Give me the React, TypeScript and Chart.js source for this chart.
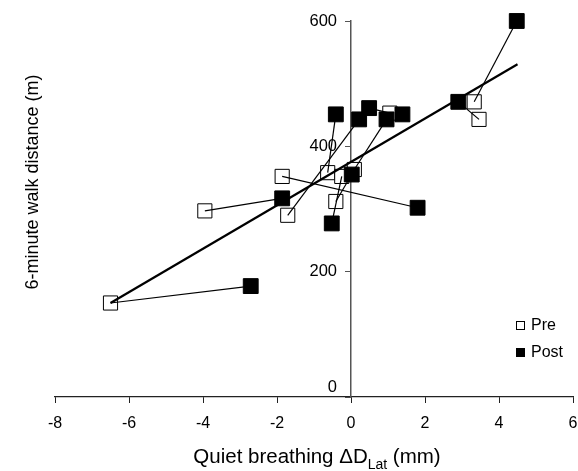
import React, { useEffect, useRef } from "react";
import { Chart, registerables } from "chart.js";

Chart.register(...registerables);

// Pre values (x: quiet breathing ΔD_Lat mm, y: 6MWD m)
const preX = [-6.5, -3.95, -1.86, -1.71, -0.63, -0.41, -0.25, 0.09, 1.05, 3.33, 3.46];
const preY = [150, 297, 352, 290, 358, 312, 352, 363, 453, 471, 443];
// Post values; index i pairs with pre index i (last one has no visible partner)
const postX = [-2.71, -1.86, 1.8, 0.22, -0.41, 0.02, -0.52, 0.96, 0.49, 4.48, 2.9, 1.39];
const postY = [177, 317, 302, 443, 451, 355, 277, 443, 461, 600, 471, 451];
// Regression line
const regX = [-6.5, 4.5];
const regY = [150, 531];

const xTicks = [-8, -6, -4, -2, 0, 2, 4, 6];
const yTicks = [0, 200, 400, 600];

const FONT = '"Liberation Sans", Arial, Helvetica, sans-serif';

export default function App() {
  const ref = useRef<HTMLCanvasElement | null>(null);

  useEffect(() => {
    if (!ref.current) return;
    const pre = preX.map((x, i) => ({ x, y: preY[i] }));
    const post = postX.map((x, i) => ({ x, y: postY[i] }));
    const pairSets = preX.map((x, i) => ({
      label: "pair" + i,
      data: [
        { x, y: preY[i] },
        { x: postX[i], y: postY[i] },
      ],
      showLine: true,
      pointRadius: 0,
      pointHoverRadius: 0,
      borderColor: "#000",
      borderWidth: 1.2,
      order: 2,
      clip: false as any,
    }));

    // extend plot to the right edge and place the y axis so it crosses x = 0
    const yAtZero = {
      id: "yAtZero",
      afterLayout(chart: any) {
        const xs = chart.scales.x;
        const ys = chart.scales.y;
        const right = chart.width - 5;
        chart.chartArea.right = right;
        chart.chartArea.width = right - chart.chartArea.left;
        xs.right = right;
        xs.width = right - xs.left;
        xs.configure();
        const px = xs.getPixelForValue(0);
        ys.right = px;
        ys.left = px - 60;
        ys.width = 60;
      },
    };

    const titlesAndLegend = {
      id: "titlesAndLegend",
      afterDraw(chart: any) {
        const ctx = chart.ctx;
        ctx.save();
        ctx.fillStyle = "#000";
        // y title
        ctx.save();
        ctx.translate(33, 182);
        ctx.rotate(-Math.PI / 2);
        ctx.font = `18px ${FONT}`;
        ctx.textAlign = "center";
        ctx.textBaseline = "middle";
        ctx.fillText("6-minute walk distance (m)", 0, 0);
        ctx.restore();
        // x title with subscript
        const p1 = "Quiet breathing ΔD";
        const sub = "Lat";
        const p2 = " (mm)";
        ctx.textBaseline = "alphabetic";
        ctx.textAlign = "left";
        ctx.font = `20.5px ${FONT}`;
        const w1 = ctx.measureText(p1).width;
        const w3 = ctx.measureText(p2).width;
        ctx.font = `14px ${FONT}`;
        const w2 = ctx.measureText(sub).width;
        const total = w1 + w2 + w3;
        let x = 317 - total / 2;
        const base = 463;
        ctx.font = `20.5px ${FONT}`;
        ctx.fillText(p1, x, base);
        x += w1;
        ctx.font = `14px ${FONT}`;
        ctx.fillText(sub, x, base + 6);
        x += w2;
        ctx.font = `20.5px ${FONT}`;
        ctx.fillText(p2, x, base);
        // legend
        const dsPre = chart.data.datasets.find((d: any) => d.label === "Pre");
        const dsPost = chart.data.datasets.find((d: any) => d.label === "Post");
        ctx.font = `16px ${FONT}`;
        ctx.textBaseline = "middle";
        ctx.lineWidth = 1;
        ctx.fillStyle = "#fff";
        ctx.strokeStyle = "#000";
        ctx.fillRect(516.5, 321.5, 8, 8);
        ctx.strokeRect(516.5, 321.5, 8, 8);
        ctx.fillStyle = "#000";
        ctx.fillRect(516, 348, 9, 9);
        ctx.fillText(dsPre.label, 531, 326);
        ctx.fillText(dsPost.label, 531, 353);
        ctx.restore();
      },
    };

    const chart = new Chart(ref.current, {
      type: "scatter",
      data: {
        datasets: [
          {
            label: "Pre",
            data: pre,
            pointStyle: "rect",
            pointRadius: 10,
            pointHoverRadius: 10,
            backgroundColor: "#fff",
            borderColor: "#000",
            borderWidth: 1,
            order: 3,
            clip: false as any,
          },
          ...pairSets,
          {
            label: "reg",
            data: regX.map((x, i) => ({ x, y: regY[i] })),
            showLine: true,
            pointRadius: 0,
            pointHoverRadius: 0,
            borderColor: "#000",
            borderWidth: 2.2,
            order: 2,
            clip: false as any,
          },
          {
            label: "Post",
            data: post,
            pointStyle: "rect",
            pointRadius: 10.5,
            pointHoverRadius: 10.5,
            backgroundColor: "#000",
            borderColor: "#000",
            borderWidth: 1,
            order: 1,
            clip: false as any,
          },
        ] as any,
      },
      plugins: [yAtZero, titlesAndLegend],
      options: {
        animation: false,
        responsive: true,
        maintainAspectRatio: false,
        layout: { padding: { left: 55, right: 5, top: 21, bottom: 0 } },
        plugins: { legend: { display: false }, tooltip: { enabled: false } },
        scales: {
          x: {
            type: "linear",
            position: "bottom",
            min: -8,
            max: 6,
            afterFit: (s: any) => {
              s.height = 74;
            },
            afterBuildTicks: (s: any) => {
              s.ticks = xTicks.map((v) => ({ value: v }));
            },
            ticks: { font: { size: 16, family: FONT }, color: "#000", padding: 11 },
            grid: { drawOnChartArea: false, drawTicks: true, tickLength: 6, color: "#222" },
            border: { display: true, color: "#222", width: 1.2 },
          },
          y: {
            type: "linear",
            position: "left",
            min: 0,
            max: 600,
            afterFit: (s: any) => {
              s.width = 0;
            },
            afterBuildTicks: (s: any) => {
              s.ticks = yTicks.map((v) => ({ value: v }));
            },
            ticks: {
              font: { size: 16.5, family: FONT },
              color: "#000",
              padding: 8,
              callback: (v: any) => (v === 0 ? ["0", ""] : String(v)),
            },
            grid: { drawOnChartArea: false, drawTicks: true, tickLength: 6, color: "#555" },
            border: { display: true, color: "#555", width: 1.5 },
          },
        },
      },
    });
    return () => chart.destroy();
  }, []);

  return (
    <div style={{ position: "fixed", left: 0, top: 0, width: 578, height: 471, background: "#fff" }}>
      <canvas ref={ref} />
    </div>
  );
}
